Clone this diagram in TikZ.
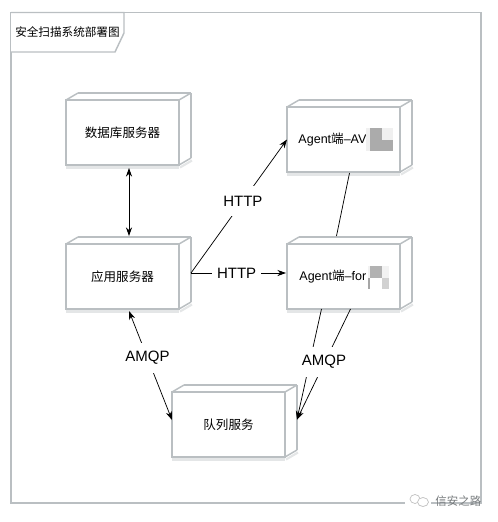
\documentclass[tikz,border=0pt]{standalone}
\usepackage{fontspec}
\setmainfont{Liberation Sans}
\newfontfamily\cjk{Noto Sans CJK SC}
\usetikzlibrary{arrows.meta,positioning,calc}
\definecolor{framegray}{RGB}{186, 191, 194}
\definecolor{shadegray}{RGB}{228, 230, 231}
\definecolor{markgray}{RGB}{120, 124, 126}
\tikzset{
  nodebox/.style={draw=framegray, fill=white, line width=1.1pt, minimum width=84.75pt,
    minimum height=48.75pt, inner sep=0pt, outer sep=0pt, font=\fontsize{9.4}{11}\selectfont,
    append after command={
      (\tikzlastnode.south west) ++(0,2.5) edge[draw=shadegray, line width=1.6pt] ++(113,0)
      (\tikzlastnode.south east) ++(1,2.5) edge[draw=shadegray, line width=1.6pt] ++(12,-7)
      (\tikzlastnode.north west) edge[draw=framegray, line width=1.1pt] ++(12,-7)
      (\tikzlastnode.north east) edge[draw=framegray, line width=1.1pt] ++(12,-7)
      (\tikzlastnode.south east) edge[draw=framegray, line width=1.1pt] ++(12,-7)
      ($(\tikzlastnode.north west)+(12,-7)$) edge[draw=framegray, line width=1.1pt] ++(113,0)
      ($(\tikzlastnode.north east)+(12,-7)$) edge[draw=framegray, line width=1.1pt] ++(0,65)
    }},
  linkname/.style={fill=white, inner xsep=3.7pt, inner ysep=0pt, minimum height=23pt,
    font=\fontsize{11.25}{13}\selectfont},
  link/.style={line width=0.55pt, >={Stealth[length=6.5pt,width=4.6pt]}}
}

\begin{document}
\begin{tikzpicture}[x=.75pt, y=-.75pt]
  \useasboundingbox (0,0) rectangle (497,522);
  % outer frame
  \draw[framegray, line width=1.2pt] (11,12.5) rectangle (481,503);
  \draw[framegray, line width=1.1pt, fill=white] (11,12.5) -- (124,12.5) -- (124,33) -- (115,52) -- (11,52);
  \node[font=\cjk\fontsize{8.7}{10}\selectfont] (title) at (67.5,32) {安全扫描系统部署图};

  \node[nodebox, font=\cjk\fontsize{9.4}{11}\selectfont] (db) at (122.5,132.5) {数据库服务器};
  \node[nodebox, font=\cjk\fontsize{9.4}{11}\selectfont, below=59.25pt of db] (app) {应用服务器};
  \node[nodebox, right=81pt of app] (agentfor) {Agent{\cjk 端}–for\kern16pt};
  \node[nodebox, above=54pt of agentfor] (av) {Agent{\cjk 端}–AV\kern16.5pt};
  \node[nodebox, font=\cjk\fontsize{9.4}{11}\selectfont] (queue) at (228.5,424.5) {队列服务};

  % blurred parts of the two names
  \fill[black!6] (366,128) rectangle (393,151);
  \fill[black!33] (370,128) rectangle (382,151);
  \fill[black!33] (382,140) rectangle (393,151);
  \fill[black!5] (368,266) rectangle (389,278);
  \fill[black!30] (370,266) rectangle (382,278);
  \fill[black!18] (382,278) rectangle (389,289);
  \fill[black!35] (368,278) rectangle (370,289);

  \draw[link, <->] ($(db.south)+(6.5,3)$) -- ($(app.north)+(6.5,-8)$);
  \draw[link, ->] ($(app.east)+(12,-3.5)$) -- (av.west) node[linkname, pos=.54] (httpav) {HTTP};
  \draw[link, ->] ($(app.east)+(12,-3.5)$) -- ($(agentfor.west)+(-1,-3.5)$) node[linkname, pos=.48] (httpfor) {HTTP};
  \draw[link] ($(av.south)+(6,1)$) -- ($(agentfor.north)+(-7,-8)$);
  \draw[link, <->] ($(app.south)+(6.5,2)$) -- ($(queue.west)+(0,-4.5)$) node[linkname, pos=.43] (amqpapp) {AMQP};
  \draw[link, ->] ($(agentfor.south)+(-22,0)$) -- ($(queue.east)+(12,-5)$);
  \draw[link, ->] ($(agentfor.south)+(7,0)$) -- ($(queue.east)+(12,-5)$);
  \node[linkname] (amqpfor) at (324,362) {AMQP};

  % watermark
  \node[fill=white, minimum width=20pt, minimum height=11pt, inner sep=0pt] (mark) at (418,502) {};
  \draw[black!25, line width=.5pt, fill=white] (415,499) ellipse (5 and 4.5);
  \draw[black!25, line width=.5pt, fill=white] (423,502) ellipse (5.5 and 4.5);
  \node[markgray, font=\cjk\fontsize{8.6}{10}\selectfont, anchor=east, inner sep=0pt] (markname) at (481.5,501) {信安之路};
\end{tikzpicture}
\end{document}
